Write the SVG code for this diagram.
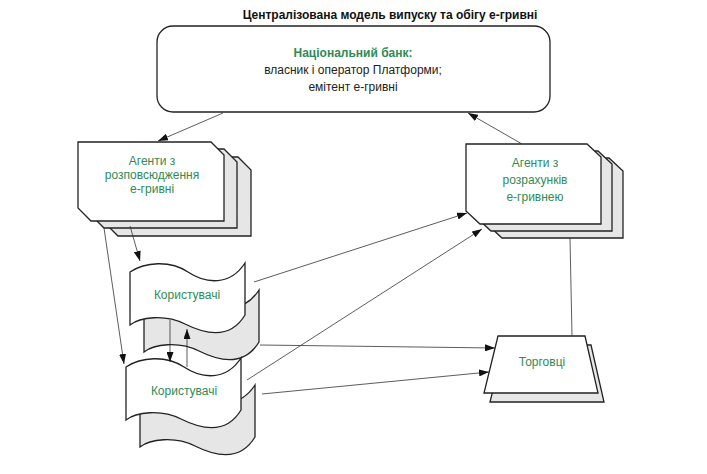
<svg xmlns="http://www.w3.org/2000/svg" xmlns:xlink="http://www.w3.org/1999/xlink" width="707" height="474" viewBox="0 0 707 474">
<style>
.t{font-family:"Liberation Sans",Arial,sans-serif;font-size:12px;text-anchor:middle}
.g{fill:#2e8b57}
.k{fill:#222}
.title{font-family:"Liberation Sans",Arial,sans-serif;font-size:12px;font-weight:bold;text-anchor:middle;fill:#111}
.main{fill:#fff;stroke:#222;stroke-width:1.3}
.sh{fill:#e6e6e6;stroke:#222;stroke-width:1.3}
.c{fill:none;stroke:#333;stroke-width:0.8}
.a{marker-end:url(#ah)}
</style>
<defs>
<marker id="ah" viewBox="0 0 10 7" refX="10" refY="3.5" markerWidth="10" markerHeight="7" markerUnits="userSpaceOnUse" orient="auto">
<path d="M0,0 L10,3.5 L0,7 z" fill="#111"/>
</marker>
<path id="tape" d="M0,0 C15,-10 40,-12 58,0 C76,12 100,14 115,-9 L115,43 C100,68 75,62 55,52 C35,42 10,45 0,53 Z"/>
<path id="oct1" d="M78,142 L211,142 L224,155 L224,221 L91,221 L78,208 Z"/>
<path id="oct2" d="M466,144 L587,144 L601,157 L601,224 L480,224 L466,211 Z"/>
</defs>
<rect width="707" height="474" fill="#fff"/>
<text class="title" x="390" y="19">Централізована модель випуску та обігу е-гривні</text>

<g id="bank">
<rect class="main" x="157" y="26" width="393" height="86" rx="16" ry="16"/>
<text class="t g" x="353" y="57" font-weight="bold">Національний банк:</text>
<text class="t k" x="353" y="74">власник і оператор Платформи;</text>
<text class="t k" x="353" y="91">емітент е-гривні</text>
</g>

<g id="agents-distribution">
<use xlink:href="#oct1" class="sh" transform="translate(27,15)"/>
<use xlink:href="#oct1" class="sh" transform="translate(13,7)"/>
<use xlink:href="#oct1" class="main"/>
<text class="t g" x="152" y="165">Агенти з</text>
<text class="t g" x="152" y="179">розповсюдження</text>
<text class="t g" x="152" y="193">е-гривні</text>
</g>

<g id="agents-settlement">
<use xlink:href="#oct2" class="sh" transform="translate(22,14)"/>
<use xlink:href="#oct2" class="sh" transform="translate(11,7)"/>
<use xlink:href="#oct2" class="main"/>
<text class="t g" x="535" y="167">Агенти з</text>
<text class="t g" x="535" y="184">розрахунків</text>
<text class="t g" x="535" y="201">е-гривнею</text>
</g>

<g id="users-1">
<use xlink:href="#tape" class="sh" transform="translate(144,299)"/>
<use xlink:href="#tape" class="main" transform="translate(130,272)"/>
<text class="t g" x="187" y="299">Користувачі</text>
</g>

<g id="users-2">
<use xlink:href="#tape" class="sh" transform="translate(140,394)"/>
<use xlink:href="#tape" class="main" transform="translate(126,367)"/>
<text class="t g" x="184" y="395">Користувачі</text>
</g>

<g id="merchants">
<polygon class="sh" points="504,345 591,345 604,402 490,402"/>
<polygon class="main" points="498,336 585,336 598,393 484,393"/>
<text class="t g" x="542" y="366">Торговці</text>
</g>

<g id="connectors">
<path class="c a" d="M223,113 L158,141"/>
<path class="c a" d="M522,144 L468,113"/>
<path class="c a" d="M104,228 L124,364"/>
<path class="c a" d="M130,226 L140,261"/>
<path class="c a" d="M170,320 L170,362"/>
<path class="c a" d="M187,367 L187,329"/>
<path class="c a" d="M254,282 L467,213"/>
<path class="c a" d="M247,380 L482,229"/>
<path class="c a" d="M260,345 L495,348"/>
<path class="c a" d="M262,394 L489,372"/>
<path class="c" d="M570,238 L572,336"/>
</g>
</svg>
